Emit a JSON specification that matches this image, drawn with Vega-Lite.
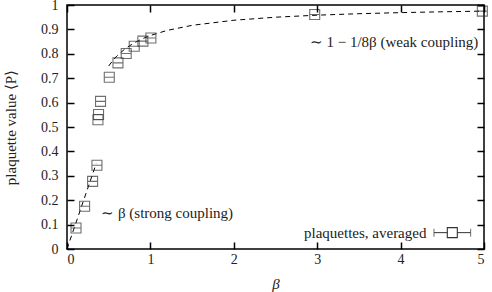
{
  "$schema": "https://vega.github.io/schema/vega-lite/v6.json",
  "width": 417,
  "height": 244,
  "autosize": {"type": "none"},
  "padding": {"left": 67, "top": 5, "right": 8, "bottom": 43},
  "background": "white",
  "config": {
    "font": "Liberation Serif",
    "view": {"stroke": "black", "strokeWidth": 1.5},
    "axis": {
      "grid": false,
      "labelFont": "Liberation Serif",
      "labelFontSize": 14,
      "labelColor": "#222",
      "titleFont": "Liberation Serif",
      "titleFontSize": 15,
      "titleFontWeight": "normal",
      "titleColor": "#222"
    }
  },
  "datasets": {
    "pts": [
      {"b": 0.108, "p": 0.086}, {"b": 0.211, "p": 0.175}, {"b": 0.307, "p": 0.277},
      {"b": 0.359, "p": 0.343}, {"b": 0.371, "p": 0.530}, {"b": 0.378, "p": 0.551},
      {"b": 0.402, "p": 0.605}, {"b": 0.507, "p": 0.704}, {"b": 0.611, "p": 0.763},
      {"b": 0.710, "p": 0.801}, {"b": 0.806, "p": 0.831}, {"b": 0.910, "p": 0.852},
      {"b": 1.006, "p": 0.865}, {"b": 2.97, "p": 0.961}, {"b": 4.98, "p": 0.975}
    ],
    "strong": [{"b": 0, "p": 0}, {"b": 0.35, "p": 0.35}],
    "weak": [
      {"b": 0.5, "p": 0.75}, {"b": 0.55, "p": 0.7727}, {"b": 0.6, "p": 0.7917},
      {"b": 0.7, "p": 0.8214}, {"b": 0.8, "p": 0.8438}, {"b": 0.9, "p": 0.8611},
      {"b": 1.0, "p": 0.875}, {"b": 1.2, "p": 0.8958}, {"b": 1.5, "p": 0.9167},
      {"b": 2.0, "p": 0.9375}, {"b": 2.5, "p": 0.95}, {"b": 3.0, "p": 0.9583},
      {"b": 3.5, "p": 0.9643}, {"b": 4.0, "p": 0.96875}, {"b": 4.5, "p": 0.9722},
      {"b": 5.0, "p": 0.975}
    ],
    "notes": [
      {"b": 0.41, "p": 0.148, "t": "∼ β (strong coupling)"},
      {"b": 2.91, "p": 0.85, "t": "∼ 1 − 1/8β (weak coupling)"}
    ],
    "legtext": [{"b": 4.31, "p": 0.067, "t": "plaquettes, averaged"}],
    "legbar": [{"b1": 4.40, "b2": 4.84, "p": 0.067}],
    "legcaps": [{"b": 4.40, "p": 0.067}, {"b": 4.84, "p": 0.067}],
    "legsq": [{"b": 4.62, "p": 0.067}]
  },
  "layer": [
    {
      "data": {"name": "strong"},
      "mark": {"type": "line", "color": "black", "strokeWidth": 1, "strokeDash": [5, 4]},
      "encoding": {
        "x": {"field": "b", "type": "quantitative", "scale": {"domain": [0, 5], "nice": false},
              "axis": {"title": "β", "titleFontStyle": "italic", "values": [0,1,2,3,4,5], "domain": false, "ticks": true, "tickSize": 7, "tickColor": "black", "tickWidth": 1.5, "tickOpacity": 1, "offset": -7, "labelPadding": 3, "titlePadding": 10, "zindex": 1}},
        "y": {"field": "p", "type": "quantitative", "scale": {"domain": [0, 1], "nice": false},
              "axis": {"title": "plaquette value ⟨P⟩", "values": [0,0.1,0.2,0.3,0.4,0.5,0.6,0.7,0.8,0.9,1], "format": "~g", "domain": false, "ticks": true, "tickSize": 7, "tickColor": "black", "tickWidth": 1.5, "tickOpacity": 1, "offset": -7, "labelPadding": 9, "titlePadding": 22, "zindex": 1}}
      }
    },
    {
      "data": {"name": "strong"},
      "mark": {"type": "point", "opacity": 0},
      "encoding": {
        "x": {"field": "b", "type": "quantitative", "axis": {"orient": "top", "labels": false, "title": null, "values": [0,1,2,3,4,5], "domain": false, "ticks": true, "tickSize": 7, "tickColor": "black", "tickWidth": 1.5, "tickOpacity": 1, "offset": -7, "zindex": 1}},
        "y": {"field": "p", "type": "quantitative", "axis": {"orient": "right", "labels": false, "title": null, "values": [0,0.1,0.2,0.3,0.4,0.5,0.6,0.7,0.8,0.9,1], "domain": false, "ticks": true, "tickSize": 7, "tickColor": "black", "tickWidth": 1.5, "tickOpacity": 1, "offset": -7, "zindex": 1}}
      }
    },
    {
      "data": {"name": "weak"},
      "mark": {"type": "line", "color": "black", "strokeWidth": 1, "strokeDash": [5, 4]},
      "encoding": {
        "x": {"field": "b", "type": "quantitative", "axis": null},
        "y": {"field": "p", "type": "quantitative", "axis": null}
      }
    },
    {
      "data": {"name": "pts"},
      "mark": {"type": "point", "shape": "M-1,-1H1V1H-1Z M-1,0H1", "size": 100, "filled": false, "stroke": "#333", "strokeWidth": 1.1},
      "encoding": {
        "x": {"field": "b", "type": "quantitative", "axis": null},
        "y": {"field": "p", "type": "quantitative", "axis": null}
      }
    },
    {
      "data": {"name": "notes"},
      "mark": {"type": "text", "align": "left", "baseline": "middle", "fontSize": 15, "color": "#222"},
      "encoding": {
        "x": {"field": "b", "type": "quantitative", "axis": null},
        "y": {"field": "p", "type": "quantitative", "axis": null},
        "text": {"field": "t"}
      }
    },
    {
      "data": {"name": "legtext"},
      "mark": {"type": "text", "align": "right", "baseline": "middle", "fontSize": 15, "color": "#222"},
      "encoding": {
        "x": {"field": "b", "type": "quantitative", "axis": null},
        "y": {"field": "p", "type": "quantitative", "axis": null},
        "text": {"field": "t"}
      }
    },
    {
      "data": {"name": "legbar"},
      "mark": {"type": "rule", "color": "#333", "strokeWidth": 1},
      "encoding": {
        "x": {"field": "b1", "type": "quantitative", "axis": null},
        "x2": {"field": "b2"},
        "y": {"field": "p", "type": "quantitative", "axis": null}
      }
    },
    {
      "data": {"name": "legcaps"},
      "mark": {"type": "tick", "orient": "vertical", "size": 8, "thickness": 1, "color": "#333"},
      "encoding": {
        "x": {"field": "b", "type": "quantitative", "axis": null},
        "y": {"field": "p", "type": "quantitative", "axis": null}
      }
    },
    {
      "data": {"name": "legsq"},
      "mark": {"type": "point", "shape": "M-1,-1H1V1H-1Z", "size": 100, "filled": true, "fill": "white", "stroke": "#333", "strokeWidth": 1.1, "opacity": 1},
      "encoding": {
        "x": {"field": "b", "type": "quantitative", "axis": null},
        "y": {"field": "p", "type": "quantitative", "axis": null}
      }
    }
  ],
  "resolve": {"axis": {"x": "independent", "y": "independent"}}
}
